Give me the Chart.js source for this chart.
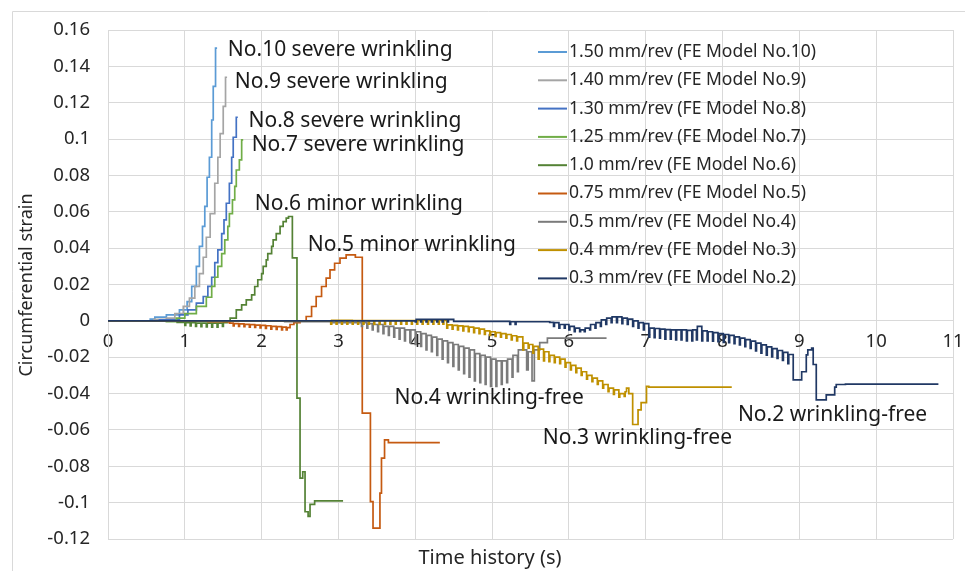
<!DOCTYPE html>
<html>
<head>
<meta charset="utf-8">
<script src="https://cdn.jsdelivr.net/npm/chart.js@4.4.1/dist/chart.umd.min.js"></script>
<style>
  html, body { margin: 0; padding: 0; background: #fff; }
  #wrap { position: relative; width: 965px; height: 571px; }
</style>
</head>
<body>
<div id="wrap"><canvas id="c" width="965" height="571"></canvas></div>
<script>
// Circumferential strain vs. time, FE models No.2 - No.10 (stepped traces)
const xTicks = [0, 1, 2, 3, 4, 5, 6, 7, 8, 9, 10, 11];
const yTicks = [-0.12, -0.1, -0.08, -0.06, -0.04, -0.02, 0, 0.02, 0.04, 0.06, 0.08, 0.1, 0.12, 0.14, 0.16];

const seriesLabels = [
  '1.50 mm/rev (FE Model No.10)',
  '1.40 mm/rev (FE Model No.9)',
  '1.30 mm/rev (FE Model No.8)',
  '1.25 mm/rev (FE Model No.7)',
  '1.0 mm/rev (FE Model No.6)',
  '0.75 mm/rev (FE Model No.5)',
  '0.5 mm/rev (FE Model No.4)',
  '0.4 mm/rev (FE Model No.3)',
  '0.3 mm/rev (FE Model No.2)',
];
const seriesColors = ['#5B9BD5', '#A5A5A5', '#4472C4', '#70AD47', '#548235', '#C55A11', '#7B7B7B', '#BF9000', '#203864'];

// [time, strain] step points
const no10 = [[0, 0], [0.55, 0.001], [0.61, 0.002], [0.76, 0.0033], [0.93, 0.006], [1.03, 0.0106], [1.09, 0.019], [1.15, 0.030],
  [1.19, 0.041], [1.23, 0.052], [1.26, 0.063], [1.29, 0.079], [1.32, 0.090], [1.35, 0.1105], [1.37, 0.129], [1.40, 0.150], [1.42, 0.150]];
const no9 = [[0, 0], [0.6, 0.0008], [0.76, 0.0015], [0.87, 0.004], [0.98, 0.008], [1.06, 0.0125], [1.13, 0.019], [1.19, 0.026],
  [1.24, 0.035], [1.28, 0.046], [1.33, 0.059], [1.39, 0.0757], [1.43, 0.090], [1.46, 0.103], [1.50, 0.118], [1.53, 0.134], [1.55, 0.134]];
const no8 = [[0, 0], [0.67, 0.0005], [0.93, 0.0033], [1.04, 0.006], [1.15, 0.0097], [1.24, 0.0134], [1.30, 0.019], [1.35, 0.024],
  [1.39, 0.032], [1.43, 0.039], [1.48, 0.048], [1.51, 0.0556], [1.54, 0.0647], [1.58, 0.0757], [1.61, 0.090], [1.63, 0.101],
  [1.67, 0.112], [1.69, 0.112]];
const no7 = [[0, 0], [0.76, -0.0005], [0.89, 0.0015], [1.0, 0.004], [1.15, 0.008], [1.28, 0.013], [1.35, 0.019], [1.39, 0.024],
  [1.43, 0.030], [1.48, 0.037], [1.52, 0.0446], [1.56, 0.052], [1.58, 0.059], [1.62, 0.0666], [1.65, 0.074], [1.67, 0.083],
  [1.71, 0.0886], [1.74, 0.0996], [1.76, 0.0996]];

// No.6
const no6Lead = [[0, 0], [0.9, -0.0008]];
const no6Teeth = [[1.00, -0.001, -0.0025], [1.07, -0.001, -0.0028], [1.14, -0.0012, -0.003], [1.21, -0.0012, -0.0032],
  [1.28, -0.0013, -0.0033], [1.35, -0.0013, -0.0035], [1.42, -0.0012, -0.0035], [1.49, -0.001, -0.003]];
const no6Tail = [[1.55, -0.0005], [1.59, 0.0015], [1.67, 0.006], [1.74, 0.0088], [1.80, 0.0115], [1.87, 0.0143], [1.91, 0.0189],
  [1.95, 0.0226], [2.00, 0.026], [2.02, 0.030], [2.06, 0.0336], [2.08, 0.037], [2.13, 0.041], [2.15, 0.0446], [2.19, 0.048],
  [2.24, 0.052], [2.28, 0.0546], [2.32, 0.0565], [2.35, 0.0574], [2.40, 0.0347], [2.46, -0.0425], [2.50, -0.0865],
  [2.535, -0.083], [2.565, -0.105], [2.605, -0.1076], [2.63, -0.101], [2.69, -0.099], [3.06, -0.099]];

// No.5
const no5Lead = [[0, 0], [1.3, -0.0005], [1.58, -0.0013]];
const no5Teeth = [[1.63, -0.0015, -0.0028], [1.70, -0.0017, -0.003], [1.77, -0.0019, -0.0032], [1.84, -0.0021, -0.0034],
  [1.91, -0.0023, -0.0036], [1.98, -0.0025, -0.0039], [2.05, -0.0027, -0.0042], [2.12, -0.003, -0.0045],
  [2.19, -0.0032, -0.0047], [2.26, -0.0035, -0.005], [2.32, -0.0037, -0.005]];
const no5Tail = [[2.37, -0.002], [2.42, -0.001], [2.50, 0], [2.58, 0.0024], [2.65, 0.0079], [2.71, 0.0134], [2.78, 0.0189],
  [2.84, 0.0235], [2.89, 0.028], [2.95, 0.0317], [3.02, 0.0345], [3.10, 0.0363], [3.22, 0.035], [3.31, -0.0508],
  [3.416, -0.0994], [3.45, -0.114], [3.54, -0.0948], [3.56, -0.0755], [3.60, -0.0655], [3.65, -0.067], [4.32, -0.067]];

// No.4
const no4Lead = [[0, 0], [2.3, -0.0005], [2.9, -0.001]];
const no4Teeth = [[3.30, -0.001, -0.003], [3.37, -0.0015, -0.004], [3.44, -0.002, -0.005], [3.51, -0.002, -0.006],
  [3.58, -0.003, -0.007], [3.65, -0.003, -0.008], [3.72, -0.004, -0.009], [3.79, -0.004, -0.010], [3.86, -0.005, -0.011],
  [3.93, -0.005, -0.012], [4.00, -0.006, -0.013], [4.07, -0.007, -0.014], [4.14, -0.008, -0.016], [4.21, -0.009, -0.017],
  [4.28, -0.010, -0.019], [4.35, -0.011, -0.021], [4.42, -0.012, -0.023], [4.49, -0.013, -0.025], [4.56, -0.014, -0.027],
  [4.63, -0.015, -0.029], [4.70, -0.016, -0.031], [4.77, -0.018, -0.033], [4.84, -0.019, -0.034], [4.91, -0.020, -0.035],
  [4.98, -0.021, -0.036], [5.05, -0.022, -0.036], [5.12, -0.022, -0.035], [5.19, -0.021, -0.034], [5.26, -0.019, -0.031],
  [5.33, -0.016, -0.028]];
const no4Tail = [[5.40, -0.016], [5.45, -0.027], [5.47, -0.017], [5.52, -0.033], [5.55, -0.016], [5.62, -0.012],
  [5.72, -0.0095], [6.49, -0.0095]];

// No.3
const no3Lead = [[0, 0], [2.85, 0]];
const no3Teeth = [[2.90, 0.0003, -0.0018], [2.97, 0.0003, -0.0018], [3.04, 0.0003, -0.0018], [3.11, 0.0003, -0.0018],
  [3.18, 0.0002, -0.0018], [3.25, 0.0002, -0.0018], [3.32, 0.0002, -0.0018], [3.39, 0.0002, -0.0018], [3.46, 0.0002, -0.0018],
  [3.53, 0.0002, -0.0018], [3.60, 0.0002, -0.0018], [3.67, 0.0002, -0.0018], [3.74, 0.0002, -0.0018], [3.81, 0.0002, -0.0018],
  [3.88, 0.0002, -0.0018], [3.95, 0.0002, -0.0018], [4.02, 0.0002, -0.0018], [4.09, 0.0002, -0.0018], [4.16, 0.0002, -0.0018],
  [4.23, 0.0002, -0.0018], [4.30, 0.0002, -0.0018], [4.36, 0.0002, -0.0018],
  [4.41, -0.0022, -0.004], [4.48, -0.0025, -0.0045], [4.55, -0.0028, -0.005], [4.62, -0.003, -0.0055], [4.69, -0.0035, -0.006],
  [4.76, -0.004, -0.0065], [4.83, -0.0045, -0.007], [4.90, -0.0055, -0.0075], [4.97, -0.006, -0.008], [5.04, -0.0065, -0.0085],
  [5.11, -0.007, -0.009], [5.18, -0.0075, -0.0095], [5.25, -0.0082, -0.0105], [5.32, -0.0088, -0.011], [5.40, -0.0123, -0.016],
  [5.47, -0.013, -0.015], [5.53, -0.014, -0.0177], [5.60, -0.0155, -0.021], [5.67, -0.017, -0.022], [5.74, -0.019, -0.0225],
  [5.81, -0.020, -0.023], [5.88, -0.021, -0.0235], [5.95, -0.023, -0.0255], [6.02, -0.0245, -0.027], [6.09, -0.026, -0.0285],
  [6.16, -0.028, -0.030], [6.23, -0.030, -0.032], [6.30, -0.0315, -0.0335], [6.37, -0.033, -0.035], [6.44, -0.035, -0.037],
  [6.51, -0.037, -0.039], [6.58, -0.038, -0.0405], [6.65, -0.040, -0.042], [6.72, -0.039, -0.0415]];
const no3Tail = [[6.75, -0.037], [6.78, -0.040], [6.83, -0.057], [6.90, -0.049], [6.94, -0.045], [7.01, -0.036],
  [7.04, -0.0365], [8.12, -0.0365]];

// No.2
const no2Lead = [[0, 0], [3.9, 0]];
const no2Teeth = [[4.00, 0.0008, -0.0006], [4.07, 0.0008, -0.0006], [4.14, 0.0008, -0.0006], [4.21, 0.0008, -0.0006],
  [4.28, 0.0008, -0.0006], [4.35, 0.0008, -0.0006], [4.42, 0.0008, -0.0006], [4.50, -0.0003, -0.0003],
  [5.23, -0.0005, -0.002], [5.30, -0.0005, -0.002], [5.75, -0.0008, -0.0008],
  [5.80, -0.001, -0.003], [5.87, -0.002, -0.004], [5.94, -0.002, -0.004], [6.00, -0.003, -0.005], [6.07, -0.004, -0.006],
  [6.14, -0.005, -0.006], [6.20, -0.004, -0.006], [6.27, -0.002, -0.005], [6.34, -0.001, -0.004], [6.41, 0.0005, -0.003],
  [6.48, 0.0015, -0.002], [6.55, 0.0022, -0.001], [6.62, 0.0022, -0.001], [6.69, 0.0015, -0.0015], [6.76, 0.001, -0.002],
  [6.83, 0.0, -0.003], [6.90, -0.001, -0.004], [6.97, -0.0015, -0.005],
  [7.04, -0.0040, -0.0090], [7.11, -0.0042, -0.0092], [7.18, -0.0045, -0.0095], [7.25, -0.0048, -0.0100],
  [7.32, -0.0050, -0.0100], [7.39, -0.0050, -0.0105], [7.46, -0.0050, -0.0105], [7.53, -0.0052, -0.0110],
  [7.60, -0.0050, -0.0110], [7.66, -0.0030, -0.0105], [7.73, -0.0055, -0.0110], [7.80, -0.0060, -0.0110],
  [7.87, -0.0065, -0.0112], [7.94, -0.0070, -0.0115], [8.01, -0.0075, -0.0118], [8.08, -0.0080, -0.0120],
  [8.15, -0.0088, -0.0125], [8.22, -0.0095, -0.0132], [8.29, -0.0103, -0.0142], [8.36, -0.0112, -0.0152],
  [8.43, -0.0122, -0.0165], [8.50, -0.0132, -0.0177], [8.57, -0.0143, -0.0188], [8.64, -0.0153, -0.0198],
  [8.71, -0.0163, -0.0207], [8.78, -0.0173, -0.0218], [8.85, -0.0185, -0.0235]];
const no2Tail = [[8.92, -0.0325], [9.03, -0.028], [9.09, -0.0187], [9.11, -0.016], [9.16, -0.015], [9.18, -0.024],
  [9.22, -0.0435], [9.35, -0.0407], [9.46, -0.0365], [9.48, -0.035], [9.6, -0.0348], [10.81, -0.0348]];

const annotations = [
  { text: 'No.10 severe wrinkling', x: 1.56, y: 0.149 },
  { text: 'No.9 severe wrinkling', x: 1.65, y: 0.1315 },
  { text: 'No.8 severe wrinkling', x: 1.83, y: 0.110 },
  { text: 'No.7 severe wrinkling', x: 1.87, y: 0.0968 },
  { text: 'No.6 minor wrinkling', x: 1.91, y: 0.0644 },
  { text: 'No.5 minor wrinkling', x: 2.60, y: 0.0418 },
  { text: 'No.4 wrinkling-free', x: 3.73, y: -0.0424 },
  { text: 'No.3 wrinkling-free', x: 5.66, y: -0.0644 },
  { text: 'No.2 wrinkling-free', x: 8.2, y: -0.0517 },
];

const FONT = '"Noto Sans", "Liberation Sans", sans-serif';
const TOOTH = 0.012; // width of one oscillation tick (s)

// a tooth goes down to its low value, then back up to the running level
const comb = (teeth) => teeth.flatMap(([x, top, bot]) => [[x, bot], [x + TOOTH, top]]);

const paths = [
  no10, no9, no8, no7,
  [...no6Lead, ...comb(no6Teeth), ...no6Tail],
  [...no5Lead, ...comb(no5Teeth), ...no5Tail],
  [...no4Lead, ...comb(no4Teeth), ...no4Tail],
  [...no3Lead, ...comb(no3Teeth), ...no3Tail],
  [...no2Lead, ...comb(no2Teeth), ...no2Tail],
];

const datasets = paths.map((p, i) => ({
  label: seriesLabels[i],
  data: p.map(([x, y]) => ({ x, y })),
  borderColor: seriesColors[i],
  backgroundColor: seriesColors[i],
  borderWidth: 1.7,
  pointRadius: 0,
  stepped: true,
  fill: false,
  order: 9 - i, // later series drawn on top, like the original
}));

const extras = {
  id: 'extras',
  beforeDraw(chart) {
    const { ctx } = chart;
    ctx.save();
    ctx.strokeStyle = '#d9d9d9';
    ctx.lineWidth = 1;
    ctx.beginPath();
    ctx.moveTo(12.5, 571); ctx.lineTo(12.5, 11.5); ctx.lineTo(965, 11.5);
    ctx.stroke();
    ctx.restore();
  },
  afterDatasetsDraw(chart) {
    const { ctx, scales } = chart;
    ctx.save();
    ctx.fillStyle = '#1a1a1a';
    ctx.textBaseline = 'middle';
    ctx.textAlign = 'left';
    ctx.font = `21px ${FONT}`;
    annotations.forEach((a) => {
      ctx.fillText(a.text, scales.x.getPixelForValue(a.x), scales.y.getPixelForValue(a.y));
    });

    // legend (inside plot, upper right)
    ctx.font = `17.5px ${FONT}`;
    ctx.fillStyle = '#262626';
    seriesLabels.forEach((lab, i) => {
      const y = 52 + i * 28.3;
      ctx.strokeStyle = seriesColors[i];
      ctx.lineWidth = 2;
      ctx.beginPath();
      ctx.moveTo(538, y);
      ctx.lineTo(567, y);
      ctx.stroke();
      ctx.fillText(lab, 569, y);
    });

    // axis titles
    ctx.font = `18px ${FONT}`;
    ctx.textAlign = 'center';
    ctx.save();
    ctx.translate(27, 285);
    ctx.rotate(-Math.PI / 2);
    ctx.fillText('Circumferential strain', 0, 0);
    ctx.restore();
    ctx.font = `20px ${FONT}`;
    ctx.fillText('Time history (s)', 490, 558);
    ctx.restore();
  },
};

new Chart(document.getElementById('c'), {
  type: 'line',
  data: { datasets },
  plugins: [extras],
  options: {
    responsive: false,
    animation: false,
    layout: { padding: { left: 0, top: 30, right: 12, bottom: 32 } },
    plugins: { legend: { display: false }, tooltip: { enabled: false } },
    scales: {
      x: {
        type: 'linear',
        min: 0,
        max: 11,
        position: { y: 0 },
        afterBuildTicks: (s) => { s.ticks = xTicks.map((v) => ({ value: v })); },
        afterFit: (s) => { s.paddingLeft = 0; s.paddingRight = 0; },
        grid: { color: '#d9d9d9', drawTicks: false },
        border: { color: '#d9d9d9' },
        ticks: { padding: 10, maxRotation: 0, color: '#262626', font: { family: FONT, size: 18.5 } },
      },
      y: {
        type: 'linear',
        min: -0.12,
        max: 0.16,
        afterBuildTicks: (s) => { s.ticks = yTicks.map((v) => ({ value: v })); },
        afterFit: (s) => { s.width = 108; s.paddingTop = 0; s.paddingBottom = 0; },
        grid: { color: '#d9d9d9', drawTicks: false },
        border: { color: '#d9d9d9' },
        ticks: {
          padding: 18,
          color: '#262626',
          font: { family: FONT, size: 18.5 },
          callback: (v) => String(Number(v.toFixed(2))),
        },
      },
    },
  },
});
</script>
</body>
</html>
